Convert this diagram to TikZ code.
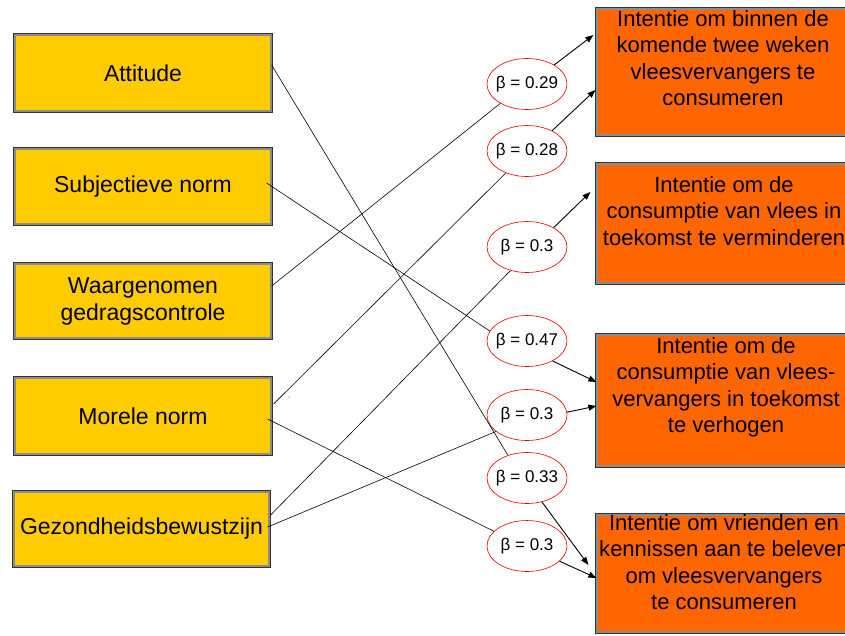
\documentclass[tikz,border=0pt]{standalone}
\usepackage{fontspec}
\setmainfont{Liberation Sans}
\usetikzlibrary{shapes.geometric,arrows.meta}
\definecolor{goldfill}{HTML}{FFCC00}
\definecolor{orangefill}{HTML}{FF6600}
\begin{document}
\begin{tikzpicture}[x=1pt,y=-1pt,
  framebox/.style={draw=black!80, double=black!45, double distance=2pt, line width=0.6pt,
    inner sep=0pt, align=center},
  leftbox/.style={framebox, fill=goldfill, minimum width=256.6pt,
    font=\fontsize{23}{27}\selectfont},
  rightbox/.style={framebox, fill=orangefill, minimum width=254.6pt},
  boxtext/.style={align=center, inner sep=0pt, font=\fontsize{22}{26.5}\selectfont},
  beta/.style={draw=red!90!black, line width=0.6pt, ellipse, minimum width=80pt,
    minimum height=51pt, inner sep=0pt, font=\fontsize{17}{20}\selectfont},
  link/.style={draw=black, line width=0.6pt},
  arr/.style={draw=black, line width=0.9pt, -{Triangle[length=8pt,width=6pt]}}
]
\useasboundingbox (0,0) rectangle (845,635);

% left boxes
\node[leftbox, minimum height=76.6pt] (att) at (143,73) {Attitude};
\node[leftbox, minimum height=75.6pt] (subj) at (143,186.5) {Subjectieve norm};
\node[leftbox, minimum height=74.6pt] (waar) at (143,301) {Waargenomen\\gedragscontrole};
\node[leftbox, minimum height=76.6pt] (mor) at (143,416) {Morele norm};
\node[leftbox, minimum height=74.6pt, minimum width=255.6pt] (gez) at (141.5,529) {\raisebox{-3pt}{Gezondheidsbewustzijn}};

% right boxes
\node[rightbox, minimum height=126.6pt] (b1) at (724,72) {};
\node[rightbox, minimum height=119.6pt] (b2) at (724,223.5) {};
\node[rightbox, minimum height=131.6pt] (b3) at (724,400.5) {};
\node[rightbox, minimum height=117.6pt] (b4) at (724,573.5) {};

\node[boxtext] (t1) at (723,58) {Intentie om binnen de\\komende twee weken\\vleesvervangers te\\consumeren};
\node[boxtext] (t2) at (724,211) {Intentie om de\\consumptie van vlees in\\toekomst te verminderen};
\node[boxtext] (t3) at (726,387.5) {Intentie om de\\consumptie van vlees-\\vervangers in toekomst\\te verhogen};
\node[boxtext] (t4) at (724,562) {Intentie om vrienden en\\kennissen aan te beleven\\om vleesvervangers\\te consumeren};

% beta ellipses
\node[beta] (e29) at (527,84) {\makebox[0pt]{β = 0.29}};
\node[beta] (e28) at (527,151) {\makebox[0pt]{β = 0.28}};
\node[beta] (e30a) at (527,247) {\makebox[0pt]{β = 0.3}};
\node[beta] (e47) at (527,341) {\makebox[0pt]{β = 0.47}};
\node[beta] (e30b) at (527,415) {\makebox[0pt]{β = 0.3}};
\node[beta] (e33) at (527,478) {\makebox[0pt]{β = 0.33}};
\node[beta] (e30c) at (527,546) {\makebox[0pt]{β = 0.3}};

% lines from predictors to ellipses
\draw[link] ([yshift=8pt]att.east) -- (e33.130);
\draw[link] ([xshift=-5pt,yshift=3.5pt]subj.east) -- (e47.165);
\draw[link] ([yshift=15pt]waar.east) -- (e29.216);
\draw[link] ([xshift=2pt,yshift=12pt]mor.east) -- (e28.226);
\draw[link] ([xshift=-4pt,yshift=-3pt]mor.east) -- (e30c.156);
\draw[link] ([xshift=1pt,yshift=14pt]gez.east) -- (e30a.235);
\draw[link] ([xshift=-2pt,yshift=2pt]gez.east) -- (e30b.208);

% arrows from ellipses to outcomes
\draw[arr] (e29.35) -- ([xshift=-3pt,yshift=37pt]b1.west);
\draw[arr] (e28.39) -- ([xshift=-1pt,yshift=-18pt]b1.west);
\draw[arr] (e30a.36) -- ([xshift=-6pt,yshift=31.5pt]b2.west);
\draw[arr] (e47.322) -- ([yshift=18.5pt]b3.west);
\draw[arr] (e30b.4) -- ([yshift=-5.5pt]b3.west);
\draw[arr] (e33.302) -- ([xshift=-8pt,yshift=8.5pt]b4.west);
\draw[arr] (e30c.335) -- ([yshift=-4.5pt]b4.west);

% stray dot
\fill (289,397) circle (0.5pt);
\end{tikzpicture}
\end{document}
